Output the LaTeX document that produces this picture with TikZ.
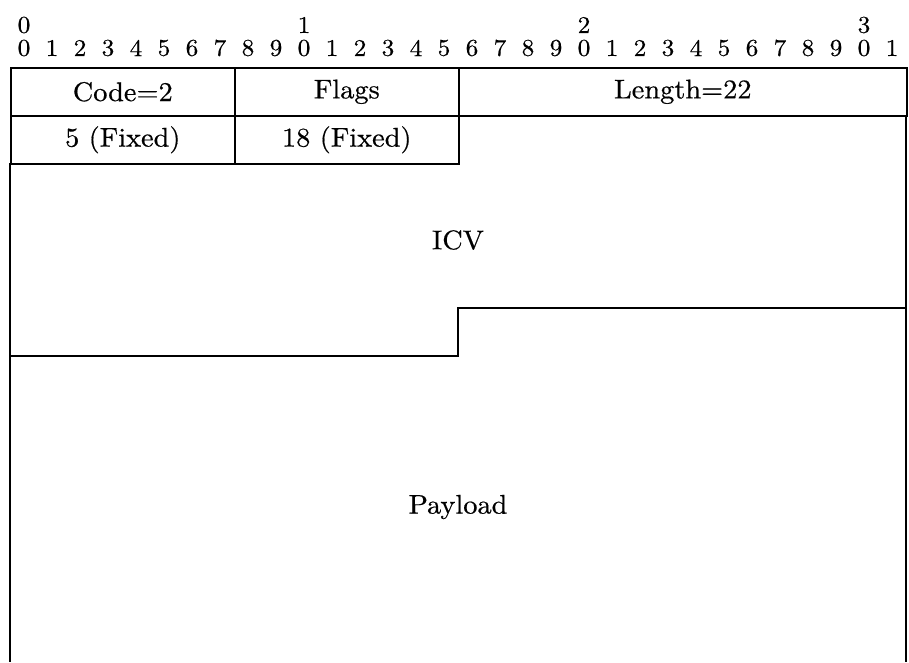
\documentclass[tikz,border=0pt]{standalone}
\usepackage{fontspec}
\setmainfont{lmroman10-regular.otf}[FakeStretch=1.05, FakeBold=0.5]
\usepackage{tikz}
\tikzset{
  field/.style={draw, line width=1.6pt, anchor=north west, inner sep=0pt,
    minimum height=48, font=\fontsize{27}{29}\selectfont},
  bitnum/.style={inner sep=0pt, font=\fontsize{24}{26}\selectfont},
  label/.style={inner sep=0pt, font=\fontsize{27}{29}\selectfont}
}

\begin{document}
\begin{tikzpicture}[x=1pt, y=-1pt]
			%%%%% START %%%%%
			\useasboundingbox (0, 0) rectangle (909, 662);

			% bit ruler
			\foreach \b in {0,...,31} {
				\pgfmathtruncatemacro{\u}{mod(\b,10)}
				\node[bitnum] (bit\b) at ({24 + 28*\b}, 48) {\u};
			}
			\foreach \b/\t in {0/0, 10/1, 20/2, 30/3}
				\node[bitnum] (ten\b) at ({24 + 28*\b}, 25) {\t};

			% first two rows
			\node[field, minimum width=224] (code) at (10, 67) {Code=2};
			\node[field, minimum width=224] (flags) at (234, 67) {Flags};
			\node[field, minimum width=448] (length) at (458, 67) {Length=22};

			\node[field, minimum width=224] (fixa) at (10, 115) {5 (Fixed)};
			\node[field, minimum width=224] (fixb) at (234, 115) {18 (Fixed)};

			% ICV and payload
			\draw[line width=1.6pt] (10, 163) -- (10, 662);
			\draw[line width=1.6pt] (906, 115) -- (906, 662);
			\draw[line width=1.6pt] (10, 356) -- (458, 356) -- (458, 308) -- (906, 308);

			\node[label] (icv) at (458, 240) {ICV};
			\node[label] (payload) at (458, 507) {Payload};
			%%%%% END %%%%%
\end{tikzpicture}
\end{document}
